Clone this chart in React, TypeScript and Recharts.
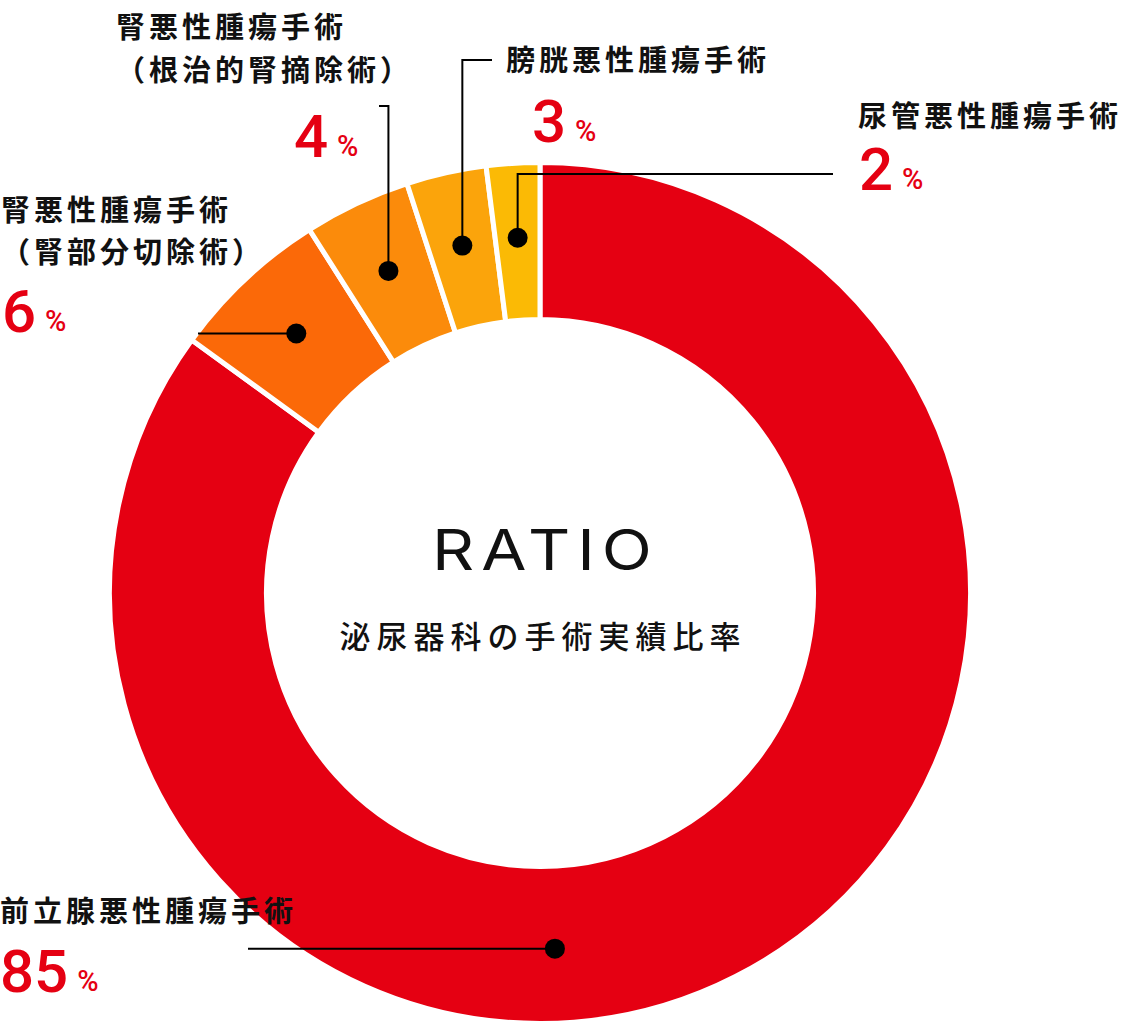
import React from 'react';
import { PieChart, Pie, Cell } from 'recharts';

const categories = [
  '前立腺悪性腫瘍手術',
  '腎悪性腫瘍手術（腎部分切除術）',
  '腎悪性腫瘍手術（根治的腎摘除術）',
  '膀胱悪性腫瘍手術',
  '尿管悪性腫瘍手術',
];
const categoryLines = [
  ['前立腺悪性腫瘍手術'],
  ['腎悪性腫瘍手術', '（腎部分切除術）'],
  ['腎悪性腫瘍手術', '（根治的腎摘除術）'],
  ['膀胱悪性腫瘍手術'],
  ['尿管悪性腫瘍手術'],
];
const shares = [85, 6, 4, 3, 2];
const sliceColors = ['#E50012', '#FB6908', '#FB8B0B', '#FBA40B', '#FBBA05'];
const centerTitle = 'RATIO';
const centerSubtitle = '泌尿器科の手術実績比率';

const data = categories.map((name, i) => ({ name, value: shares[i] }));

const W = 1124;
const H = 1022;
const CX = 540;
const CY = 593;
const OUTER = 430.5;
const INNER = 273.5;
const RAD = Math.PI / 180;

const CJK = '"Noto Sans CJK JP", "Noto Sans CJK SC", sans-serif';
const NUM = 'Roboto, "Liberation Sans", sans-serif';

type Layout = {
  textX: number;
  lineCy: number[];
  pctX: number;
  pctBase: number;
  dotAngle?: number;
  leader: (x: number, y: number) => string;
};

const layouts: Layout[] = [
  { textX: 0, lineCy: [909], pctX: 0, pctBase: 992, dotAngle: -87.6, leader: (x, y) => `M${x},${y} H248` },
  { textX: 1, lineCy: [208, 250], pctX: 2, pctBase: 332, leader: (x, y) => `M${x},${y} H198` },
  { textX: 116, lineCy: [25, 67.5], pctX: 294, pctBase: 157, leader: (x, y) => `M${x},${y} V106 H379` },
  { textX: 506, lineCy: [57.5], pctX: 532, pctBase: 142, leader: (x, y) => `M${x},${y} V60 H492` },
  { textX: 858, lineCy: [113.5], pctX: 859, pctBase: 190, leader: (x, y) => `M${x},${y} V174 H833` },
];

const renderLabel = (props: any) => {
  const { cx, cy, midAngle, innerRadius, outerRadius, index } = props;
  const lay = layouts[index];
  const ang = lay.dotAngle !== undefined ? lay.dotAngle : midAngle;
  const r = (innerRadius + outerRadius) / 2 + 4;
  const dx = cx + r * Math.cos(-ang * RAD);
  const dy = cy + r * Math.sin(-ang * RAD);
  const lines = categoryLines[index];
  return (
    <g key={`lbl-${index}`}>
      <path d={lay.leader(dx, dy)} stroke="#000" strokeWidth={2} fill="none" />
      <circle cx={dx} cy={dy} r={10} fill="#000" />
      <text
        x={lay.textX}
        y={lay.lineCy[0]}
        dominantBaseline="central"
        fontFamily={CJK}
        fontWeight={700}
        fontSize={29}
        letterSpacing={4}
        fill="#111"
      >
        {lines.map((t, j) => (
          <tspan key={j} x={lay.textX} y={lay.lineCy[j]}>
            {t}
          </tspan>
        ))}
      </text>
      <text x={lay.pctX} y={lay.pctBase} fontFamily={NUM} fontWeight={500} fill="#E50012">
        <tspan fontSize={60}>{shares[index]}</tspan>
        <tspan fontSize={29} dx={9} dy={-1}>%</tspan>
      </text>
      {index === 0 && (
        <g>
          <g transform={`translate(${cx + 2},${cy - 43}) scale(1.17,1)`}>
            <text
              x={3}
              y={0}
              textAnchor="middle"
              dominantBaseline="central"
              fontFamily="Inter, Roboto, sans-serif"
              fontWeight={400}
              fontSize={56}
              letterSpacing={6}
              fill="#111"
            >
              {centerTitle}
            </text>
          </g>
          <text
            x={cx + 3}
            y={cy + 41}
            textAnchor="middle"
            dominantBaseline="central"
            fontFamily={CJK}
            fontWeight={500}
            fontSize={31}
            letterSpacing={6}
            fill="#111"
          >
            {centerSubtitle}
          </text>
        </g>
      )}
    </g>
  );
};

export default function App() {
  return (
    <div style={{ position: 'absolute', left: 0, top: 0, width: W, height: H, background: '#fff' }}>
      <PieChart width={W} height={H} margin={{ top: 0, right: 0, bottom: 0, left: 0 }}>
        <Pie
          data={data}
          dataKey="value"
          nameKey="name"
          cx={CX}
          cy={CY}
          innerRadius={INNER}
          outerRadius={OUTER}
          startAngle={90}
          endAngle={-270}
          stroke="#fff"
          strokeWidth={5}
          label={renderLabel}
          labelLine={false}
          isAnimationActive={false}
        >
          {data.map((d, i) => (
            <Cell key={d.name} fill={sliceColors[i]} stroke="#fff" strokeWidth={5} />
          ))}
        </Pie>
      </PieChart>
    </div>
  );
}
